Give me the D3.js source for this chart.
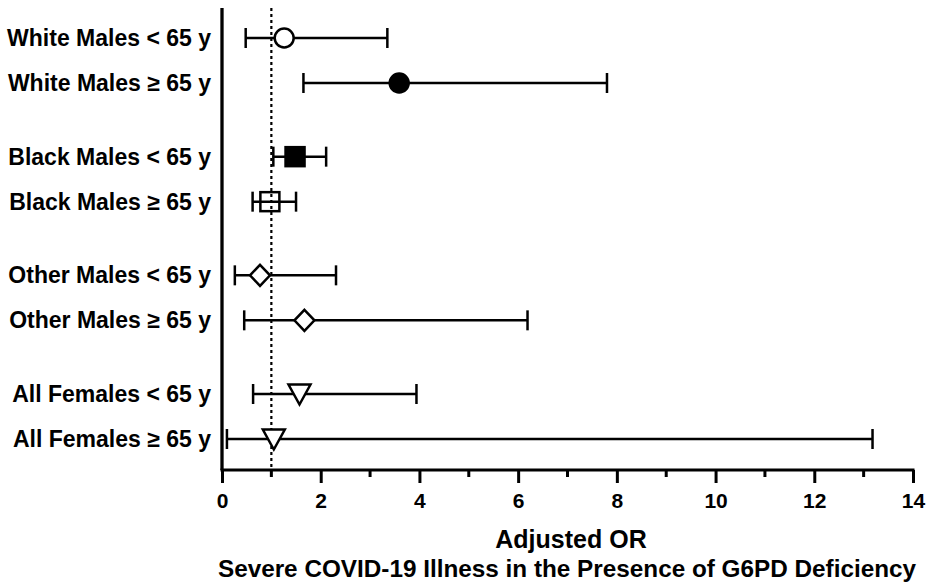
<!DOCTYPE html>
<html>
<head>
<meta charset="utf-8">
<script src="https://cdn.jsdelivr.net/npm/d3@7"></script>
<style>
  body { margin: 0; background: #fff; }
  text { font-family: "Liberation Sans", Arial, sans-serif; font-weight: bold; fill: #000; }
</style>
</head>
<body>
<svg id="chart" width="940" height="586"></svg>
<script>
// groups and age bands, rows are group x age
const groups = ["White Males", "Black Males", "Other Males", "All Females"];
const ages = ["< 65 y", "\u2265 65 y"];
// adjusted odds ratio and 95% CI
const oddsRatio = [1.26, 3.59, 1.48, 0.97, 0.77, 1.67, 1.57, 1.05];
const ciLow = [0.48, 1.65, 1.04, 0.62, 0.26, 0.45, 0.63, 0.10];
const ciHigh = [3.35, 7.80, 2.11, 1.50, 2.31, 6.19, 3.94, 13.18];
const majorTicks = [0, 2, 4, 6, 8, 10, 12, 14];
const minorTicks = [1, 3, 5, 7, 9, 11, 13];

// marker per row
const markerStyle = ["circleOpen", "circle", "square", "squareOpen", "diamond", "diamond", "triangle", "triangle"];

const rows = [];
groups.forEach(function(g, gi) {
    ages.forEach(function(a, ai) {
        const i = gi * 2 + ai;
        rows.push({group: g, age: a, label: g + " " + a, or: oddsRatio[i], lo: ciLow[i], hi: ciHigh[i], marker: markerStyle[i]});
    });
});

const svg = d3.select("#chart");
const x = d3.scaleLinear().domain([0, 14]).range([222, 913]);
const yGroup = d3.scalePoint().domain(groups).range([60.5, 416.5]);
const yAge = d3.scalePoint().domain(ages).range([-22.5, 22.5]);
function y(d) { return yGroup(d.group) + yAge(d.age); }

const axisY = 470, topY = 8;

// x axis
const gx = svg.append("g").attr("transform", "translate(0," + axisY + ")");
gx.call(d3.axisBottom(x).tickValues(majorTicks).tickSize(13).tickSizeOuter(0).tickPadding(10));
gx.select(".domain").attr("stroke-width", 3).attr("d", "M" + (x(0) - 1.5) + ",0H" + (x(14) + 1.5));
gx.selectAll(".tick line").attr("stroke-width", 3);
gx.selectAll(".tick text").attr("font-size", 21).attr("font-family", "Liberation Sans, Arial, sans-serif").attr("font-weight", "bold");
gx.append("g").selectAll("line").data(minorTicks).enter().append("line")
    .attr("x1", function(d) { return x(d); }).attr("x2", function(d) { return x(d); })
    .attr("y1", 0).attr("y2", 7).attr("stroke", "#000").attr("stroke-width", 3);

// y axis line
svg.append("line").attr("x1", x(0)).attr("x2", x(0)).attr("y1", topY).attr("y2", axisY)
    .attr("stroke", "#000").attr("stroke-width", 3.3);

// reference line at OR = 1
svg.append("line").attr("x1", x(1)).attr("x2", x(1)).attr("y1", topY).attr("y2", axisY)
    .attr("stroke", "#000").attr("stroke-width", 2.2).attr("stroke-dasharray", "3,3");

// row labels
svg.append("g").selectAll("text").data(rows).enter().append("text")
    .attr("x", 211).attr("y", function(d) { return y(d); }).attr("dy", "0.35em")
    .attr("text-anchor", "end").attr("font-size", 23)
    .text(function(d) { return d.label; });

// error bars
const bars = svg.append("g").attr("stroke", "#000").attr("stroke-width", 2.5);
bars.selectAll(".ci").data(rows).enter().append("line")
    .attr("x1", function(d) { return x(d.lo); }).attr("x2", function(d) { return x(d.hi); })
    .attr("y1", y).attr("y2", y);
["lo", "hi"].forEach(function(k) {
    bars.selectAll(".cap-" + k).data(rows).enter().append("line")
        .attr("x1", function(d) { return x(d[k]); }).attr("x2", function(d) { return x(d[k]); })
        .attr("y1", function(d) { return y(d) - 10; }).attr("y2", function(d) { return y(d) + 10; });
});

// markers
const marks = svg.append("g").attr("stroke", "#000").attr("stroke-width", 2.5);
rows.forEach(function(d) {
    const cx = x(d.or), cy = y(d);
    if (d.marker === "circleOpen") {
        marks.append("circle").attr("cx", cx).attr("cy", cy).attr("r", 9.5).attr("fill", "#fff");
    } else if (d.marker === "circle") {
        marks.append("circle").attr("cx", cx).attr("cy", cy).attr("r", 9.5).attr("fill", "#000");
    } else if (d.marker === "square") {
        marks.append("rect").attr("x", cx - 9.5).attr("y", cy - 9.5).attr("width", 19).attr("height", 19).attr("fill", "#000");
    } else if (d.marker === "squareOpen") {
        marks.append("rect").attr("x", cx - 9.5).attr("y", cy - 9.5).attr("width", 19).attr("height", 19).attr("fill", "none");
    } else if (d.marker === "diamond") {
        marks.append("path").attr("d", "M" + cx + "," + (cy - 10.5) + "L" + (cx + 10) + "," + cy + "L" + cx + "," + (cy + 10.5) + "L" + (cx - 10) + "," + cy + "Z").attr("fill", "#fff");
    } else if (d.marker === "triangle") {
        marks.append("path").attr("d", "M" + (cx - 11) + "," + (cy - 9.5) + "L" + (cx + 11) + "," + (cy - 9.5) + "L" + cx + "," + (cy + 10.5) + "Z").attr("fill", "#fff");
    }
});

// axis titles
svg.append("text").attr("x", 571).attr("y", 548).attr("text-anchor", "middle").attr("font-size", 25).text("Adjusted OR");
svg.append("text").attr("x", 567).attr("y", 577).attr("text-anchor", "middle").attr("font-size", 24.3)
    .text("Severe COVID-19 Illness in the Presence of G6PD Deficiency");
</script>
</body>
</html>
